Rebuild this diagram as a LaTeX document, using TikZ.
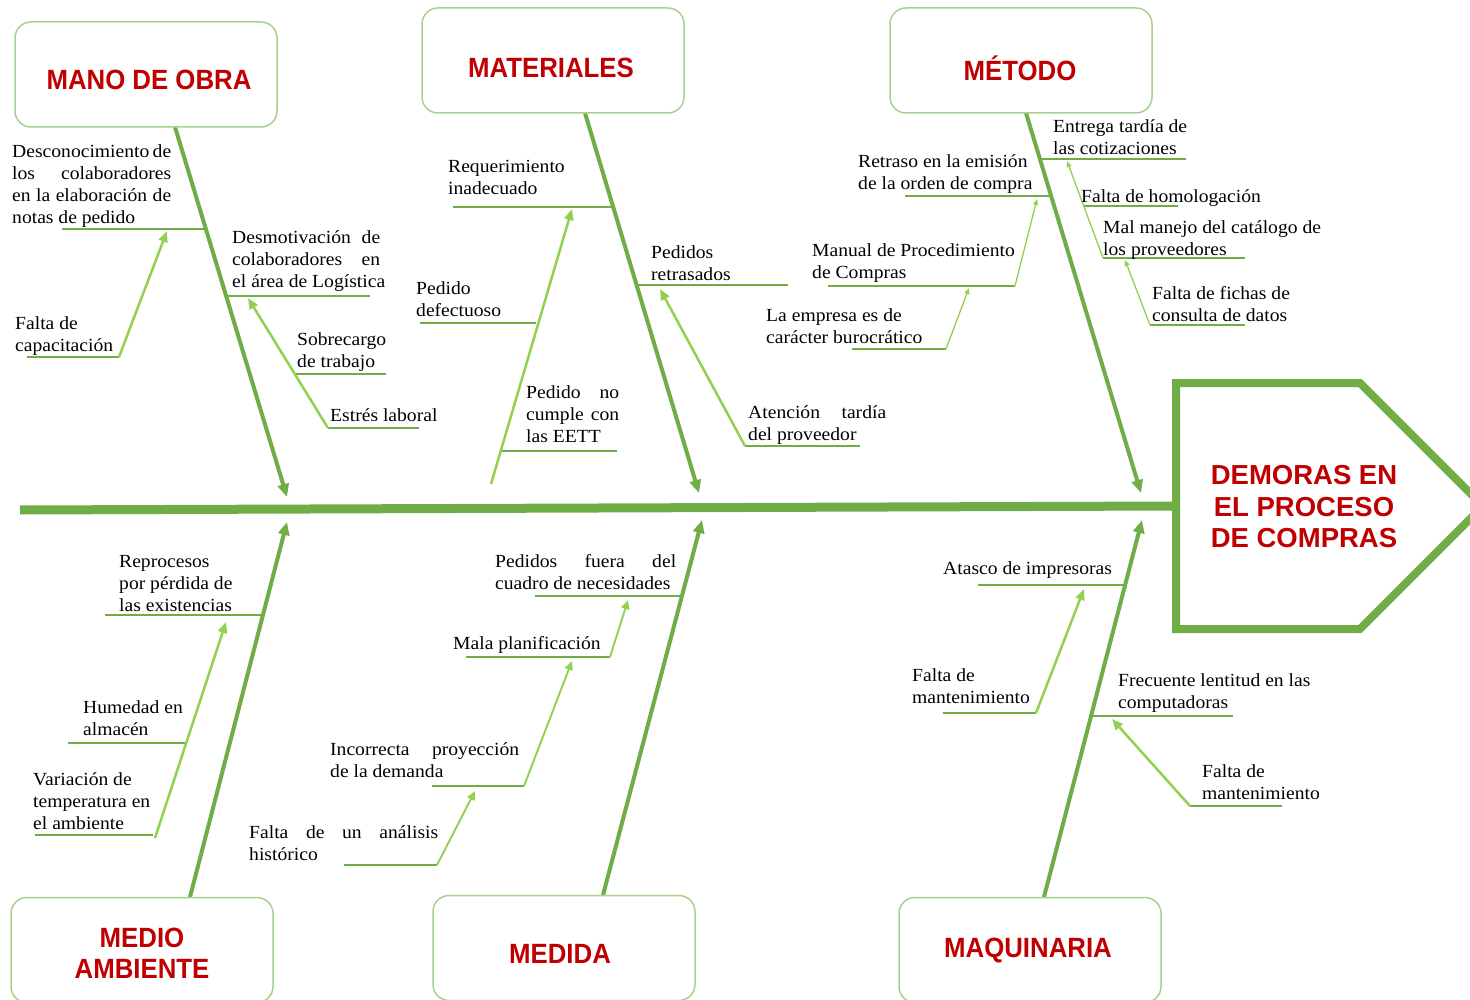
\documentclass[tikz,border=0pt]{standalone}
\usepackage{fontspec}
\setmainfont{Liberation Serif}[FakeStretch=1.06]
\setsansfont{Liberation Sans}
\usetikzlibrary{arrows.meta}
\definecolor{bone}{HTML}{70AD47}
\definecolor{subg}{HTML}{92D050}
\definecolor{boxline}{HTML}{A9D18E}
\definecolor{ttl}{HTML}{C00000}
\newcommand\fs{\rule{0pt}{17pt}}
\newcommand\jl[2]{\makebox[#1pt][s]{#2}}
\tikzset{
  catbox/.style={draw=boxline, line width=1.5pt, rounded corners=16pt, fill=white,
    minimum width=262pt, minimum height=105pt, inner sep=0pt},
  ttlf/.style={font=\sffamily\bfseries\fontsize{25.8}{29}\selectfont, text=ttl, align=center, inner sep=0pt, yscale=1.08},
  headf/.style={font=\sffamily\bfseries\fontsize{27.5}{31.5}\selectfont, text=ttl, align=center, inner sep=0pt},
  mainbone/.style={draw=bone, line width=4pt, -{Triangle[length=13pt,width=11pt]}},
  hline/.style={draw=bone, line width=2.6pt},
  subarrow/.style={draw=subg, line width=2.5pt, -{Triangle[length=11pt,width=9pt]}},
  medarrow/.style={draw=subg, line width=1.9pt, -{Triangle[length=9pt,width=8pt]}},
  thinarrow/.style={draw=subg, line width=1.3pt, -{Triangle[length=6pt,width=5pt]}},
  lbl/.style={anchor=north west, inner sep=0pt, align=left, font=\fontsize{18.5}{22}\selectfont},
}
\begin{document}
\begin{tikzpicture}[x=1pt,y=-1pt]
\useasboundingbox (0,0) rectangle (1470,1000);
\fill[white] (0,0) rectangle (1470,1000);

% ---------- coordinates ----------
\coordinate (spL) at (20,510);
\coordinate (spR) at (1176,506);
% bones
\coordinate (b1s) at (175,127);  \coordinate (b1e) at (287,497);
\coordinate (b2s) at (585,113);  \coordinate (b2e) at (699,493);
\coordinate (b3s) at (1026,113); \coordinate (b3e) at (1141,493);
\coordinate (b4s) at (190,897);  \coordinate (b4e) at (287,522);
\coordinate (b5s) at (603,895);  \coordinate (b5e) at (702,520);
\coordinate (b6s) at (1044,897); \coordinate (b6e) at (1142,520);

% spine and head
\draw[bone, line width=9pt] (spL) -- (spR);
\draw[bone, line width=8pt, line join=miter] (1176,383) -- (1360,383) -- (1483,506) -- (1360,629) -- (1176,629) -- cycle;
\node[headf] (head) at (1304,507) {DEMORAS EN\\EL PROCESO\\DE COMPRAS};

% main bones
\draw[mainbone] (b1s) -- (b1e);
\draw[mainbone] (b2s) -- (b2e);
\draw[mainbone] (b3s) -- (b3e);
\draw[mainbone] (b4s) -- (b4e);
\draw[mainbone] (b5s) -- (b5e);
\draw[mainbone] (b6s) -- (b6e);

% ---------- MANO DE OBRA ----------
\coordinate (m1a) at (62,229);  \coordinate (m1b) at (206,229);
\coordinate (m2a) at (27,357);  \coordinate (m2b) at (119,357);
\coordinate (m2t) at (167,231);
\coordinate (m3a) at (226,296); \coordinate (m3b) at (370,296);
\coordinate (m4a) at (295,374); \coordinate (m4b) at (386,374);
\coordinate (m5a) at (328,428); \coordinate (m5b) at (419,428);
\coordinate (m5t) at (248,298);
\draw[hline] (m1a) -- (m1b);
\draw[hline] (m2a) -- (m2b);
\draw[subarrow] (m2b) -- (m2t);
\draw[hline] (m3a) -- (m3b);
\draw[hline] (m4a) -- (m4b);
\draw[hline] (m5a) -- (m5b);
\draw[subarrow] (m5a) -- (m5t);
\node[lbl] (t1) at (12,140) {\fs\jl{159}{Desconocimiento de}\\\jl{159}{los colaboradores}\\\jl{159}{en la elaboración de}\\notas de pedido};
\node[lbl] (t2) at (15,312) {\fs Falta de\\capacitación};
\node[lbl] (t3) at (232,226) {\fs\jl{148}{Desmotivación de}\\\jl{148}{colaboradores en}\\el área de Logística};
\node[lbl] (t4) at (297,328) {\fs Sobrecargo\\de trabajo};
\node[lbl] (t5) at (330,404) {\fs Estrés laboral};

% ---------- MATERIALES ----------
\coordinate (p1a) at (453,207); \coordinate (p1b) at (613,207);
\coordinate (p2a) at (420,323); \coordinate (p2b) at (536,323);
\coordinate (p3a) at (502,451); \coordinate (p3b) at (617,451);
\coordinate (p3s) at (491,484); \coordinate (p3t) at (572,209);
\coordinate (p4a) at (637,285); \coordinate (p4b) at (788,285);
\coordinate (p5a) at (745,446); \coordinate (p5b) at (860,446);
\coordinate (p5t) at (660,289);
\draw[hline] (p1a) -- (p1b);
\draw[hline] (p2a) -- (p2b);
\draw[hline] (p3a) -- (p3b);
\draw[subarrow] (p3s) -- (p3t);
\draw[hline] (p4a) -- (p4b);
\draw[hline] (p5a) -- (p5b);
\draw[subarrow] (p5a) -- (p5t);
\node[lbl] (t6) at (448,155) {\fs Requerimiento\\inadecuado};
\node[lbl] (t7) at (416,277) {\fs Pedido\\defectuoso};
\node[lbl] (t8) at (526,381) {\fs\jl{93}{Pedido no}\\\jl{93}{cumple con}\\las EETT};
\node[lbl] (t9) at (651,241) {\fs Pedidos\\retrasados};
\node[lbl] (t10) at (748,401) {\fs\jl{138}{Atención tardía}\\del proveedor};

% ---------- METODO ----------
\coordinate (q1a) at (905,196);  \coordinate (q1b) at (1051,196);
\coordinate (q2a) at (828,286);  \coordinate (q2b) at (1015,286);
\coordinate (q2t) at (1037,199);
\coordinate (q3a) at (852,349);  \coordinate (q3b) at (946,349);
\coordinate (q3t) at (969,288);
\coordinate (q4a) at (1040,159); \coordinate (q4b) at (1186,159);
\coordinate (q5a) at (1084,206); \coordinate (q5b) at (1178,206);
\coordinate (q6a) at (1103,258); \coordinate (q6b) at (1245,258);
\coordinate (q6t) at (1067,161);
\coordinate (q7a) at (1150,325); \coordinate (q7b) at (1245,325);
\coordinate (q7t) at (1125,260);
\draw[hline] (q1a) -- (q1b);
\draw[hline] (q2a) -- (q2b);
\draw[thinarrow] (q2b) -- (q2t);
\draw[hline] (q3a) -- (q3b);
\draw[thinarrow] (q3b) -- (q3t);
\draw[hline] (q4a) -- (q4b);
\draw[hline] (q5a) -- (q5b);
\draw[hline] (q6a) -- (q6b);
\draw[thinarrow] (q6a) -- (q6t);
\draw[hline] (q7a) -- (q7b);
\draw[thinarrow] (q7a) -- (q7t);
\node[lbl] (t11) at (858,150) {\fs Retraso en la emisión\\de la orden de compra};
\node[lbl] (t12) at (812,239) {\fs Manual de Procedimiento\\de Compras};
\node[lbl] (t13) at (766,304) {\fs La empresa es de\\carácter burocrático};
\node[lbl] (t14) at (1053,115) {\fs Entrega tardía de\\las cotizaciones};
\node[lbl] (t15) at (1081,185) {\fs Falta de homologación};
\node[lbl] (t16) at (1103,216) {\fs Mal manejo del catálogo de\\los proveedores};
\node[lbl] (t17) at (1152,282) {\fs Falta de fichas de\\consulta de datos};

% ---------- MEDIO AMBIENTE ----------
\coordinate (r1a) at (105,615); \coordinate (r1b) at (263,615);
\coordinate (r2a) at (68,743);  \coordinate (r2b) at (185,743);
\coordinate (r3a) at (35,835);  \coordinate (r3b) at (153,835);
\coordinate (r3s) at (155,838); \coordinate (r3t) at (226,622);
\draw[hline] (r1a) -- (r1b);
\draw[hline] (r2a) -- (r2b);
\draw[hline] (r3a) -- (r3b);
\draw[subarrow] (r3s) -- (r3t);
\node[lbl] (t18) at (119,550) {\fs Reprocesos\\por pérdida de\\las existencias};
\node[lbl] (t19) at (83,696) {\fs Humedad en\\almacén};
\node[lbl] (t20) at (33,768) {\fs Variación de\\temperatura en\\el ambiente};

% ---------- MEDIDA ----------
\coordinate (s1a) at (535,596); \coordinate (s1b) at (682,596);
\coordinate (s2a) at (466,657); \coordinate (s2b) at (610,657);
\coordinate (s2t) at (628,600);
\coordinate (s3a) at (432,786); \coordinate (s3b) at (524,786);
\coordinate (s3t) at (572,661);
\coordinate (s4a) at (344,865); \coordinate (s4b) at (437,865);
\coordinate (s4t) at (475,791);
\draw[hline] (s1a) -- (s1b);
\draw[hline] (s2a) -- (s2b);
\draw[medarrow] (s2b) -- (s2t);
\draw[hline] (s3a) -- (s3b);
\draw[medarrow] (s3b) -- (s3t);
\draw[hline] (s4a) -- (s4b);
\draw[medarrow] (s4b) -- (s4t);
\node[lbl] (t21) at (495,550) {\fs\jl{181}{Pedidos fuera del}\\cuadro de necesidades};
\node[lbl] (t22) at (453,632) {\fs Mala planificación};
\node[lbl] (t23) at (330,738) {\fs\jl{189}{Incorrecta proyección}\\de la demanda};
\node[lbl] (t24) at (249,821) {\fs\jl{189}{Falta de un análisis}\\histórico};

% ---------- MAQUINARIA ----------
\coordinate (u1a) at (978,585);  \coordinate (u1b) at (1125,585);
\coordinate (u2a) at (943,713);  \coordinate (u2b) at (1036,713);
\coordinate (u2t) at (1084,589);
\coordinate (u3a) at (1091,716); \coordinate (u3b) at (1233,716);
\coordinate (u4a) at (1190,806); \coordinate (u4b) at (1282,806);
\coordinate (u4t) at (1112,719);
\draw[hline] (u1a) -- (u1b);
\draw[hline] (u2a) -- (u2b);
\draw[subarrow] (u2b) -- (u2t);
\draw[hline] (u3a) -- (u3b);
\draw[hline] (u4a) -- (u4b);
\draw[subarrow] (u4a) -- (u4t);
\node[lbl] (t25) at (943,557) {\fs Atasco de impresoras};
\node[lbl] (t26) at (912,664) {\fs Falta de\\mantenimiento};
\node[lbl] (t27) at (1118,669) {\fs Frecuente lentitud en las\\computadoras};
\node[lbl] (t28) at (1202,760) {\fs Falta de\\mantenimiento};

% ---------- category boxes ----------
\node[catbox] (mo)  at (146,74.5) {};
\node[catbox] (mat) at (553,60.5) {};
\node[catbox] (met) at (1021,60.5) {};
\node[catbox] (ma)  at (142,950) {};
\node[catbox] (med) at (564,948) {};
\node[catbox] (maq) at (1030,950) {};
\node[ttlf] (moT)  at (149,80) {MANO DE OBRA};
\node[ttlf] (matT) at (551,68) {MATERIALES};
\node[ttlf] (metT) at (1020,68) {MÉTODO};
\node[ttlf] (maT)  at (142,953) {MEDIO\\AMBIENTE};
\node[ttlf] (medT) at (560,954) {MEDIDA};
\node[ttlf] (maqT) at (1028,951) {MAQUINARIA};
\end{tikzpicture}
\end{document}
